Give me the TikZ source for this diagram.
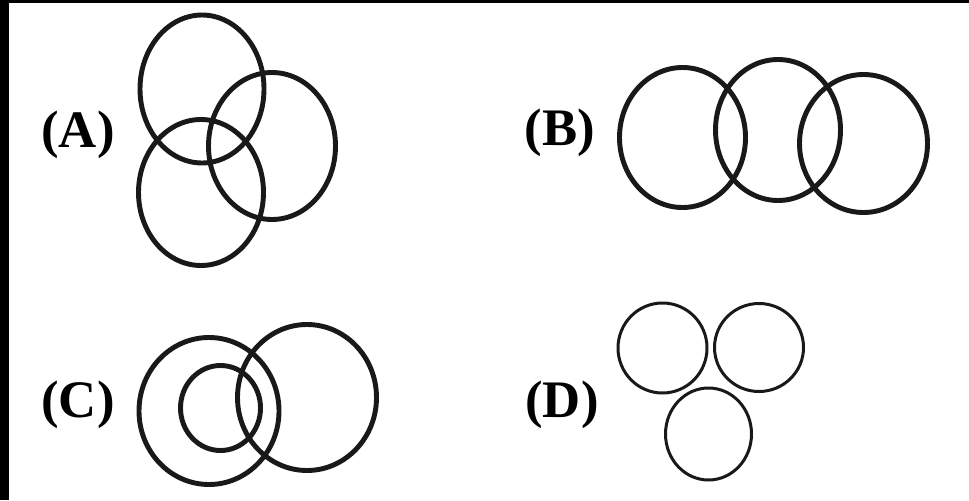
\documentclass[tikz,border=0pt]{standalone}
\usepackage{fontspec}
\setmainfont{Liberation Serif}
\usepackage{tikz}
\usetikzlibrary{positioning}

\begin{document}
\begin{tikzpicture}[x=0.02cm, y=-0.02cm,
    ring/.style={draw=black!90, line width=2.8pt},
    thinring/.style={draw=black!90, line width=1.7pt},
    tag/.style={font=\fontsize{30}{32}\selectfont\bfseries, inner sep=0pt}]
        \useasboundingbox (0,0) rectangle (969,500);
        % frame edges
        \fill[black] (0,0) rectangle (969,3);
        \fill[black] (0,0) rectangle (9,500);

        % (A) three overlapping rings
        \node[tag] (labA) at (78,135) {(A)};
        \draw[ring] (202,89) ellipse (62 and 74);
        \draw[ring] (272,146) ellipse (63.5 and 73.5);
        \draw[ring] (201,192.5) ellipse (62.5 and 73);

        % (B) rings in a row
        \node[tag] (labB) at (560,133) {(B)};
        \draw[ring] (682.5,137.5) ellipse (63 and 70);
        \draw[ring] (778,130) ellipse (62.5 and 70.5);
        \draw[ring] (863.5,143.5) ellipse (64 and 69);

        % (C) ring inside a ring, plus one more
        \node[tag] (labC) at (78,405) {(C)};
        \draw[ring] (209,411) ellipse (70 and 73.5);
        \draw[ring] (220.5,408) ellipse (40 and 42.5);
        \draw[ring] (307,397.5) ellipse (69.5 and 73);

        % (D) separate rings
        \node[tag] (labD) at (562,405) {(D)};
        \draw[thinring] (662.5,348) ellipse (44.5 and 45);
        \draw[thinring] (759,347.5) ellipse (44.5 and 44);
        \draw[thinring] (708.5,434) ellipse (43 and 46);
    \end{tikzpicture}
\end{document}
